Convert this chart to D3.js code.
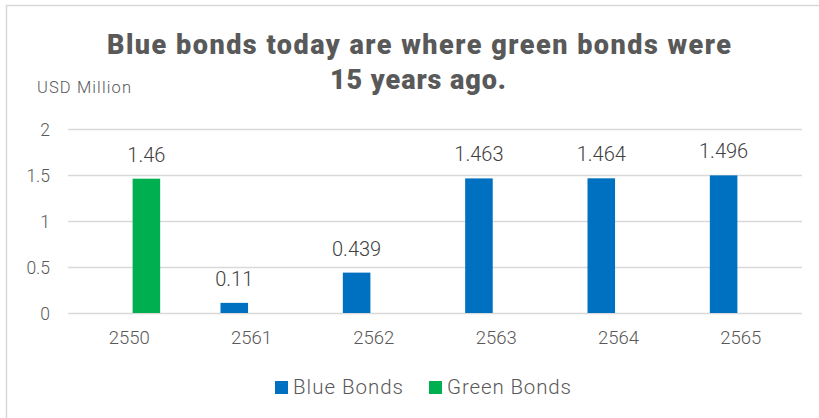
<!DOCTYPE html>
<html>
<head>
<meta charset="utf-8">
<script src="https://cdn.jsdelivr.net/npm/d3@7"></script>
<style>
  html, body { margin: 0; padding: 0; background: #fff; }
  svg { display: block; }
</style>
</head>
<body>
<svg id="chart" width="819" height="418"></svg>
<script>
const categories = ["2550", "2561", "2562", "2563", "2564", "2565"];
const seriesNames = ["Blue Bonds", "Green Bonds"];
const blueValues  = [null, 0.11, 0.439, 1.463, 1.464, 1.496];
const greenValues = [1.46, null, null, null, null, null];
const yTicks = [0, 0.5, 1, 1.5, 2];
const yTickLabels = ["0", "0.5", "1", "1.5", "2"];
const titleLines = ["Blue bonds today are where green bonds were", "15 years ago."];
const yAxisTitle = "USD Million";
const colors = { "Blue Bonds": "#0070C0", "Green Bonds": "#00B050" };

const svg = d3.select("#chart");
const font = "Roboto, 'Noto Sans', sans-serif";
const textColor = "#595959";

// border (top and left visible)
svg.append("rect").attr("x", 6.5).attr("y", 5.5).attr("width", 830).attr("height", 430)
  .attr("fill", "none").attr("stroke", "#d9d9d9").attr("stroke-width", 1.5);

const plot = { left: 68, right: 802, top: 129, bottom: 313 };

const y = d3.scaleLinear().domain([0, 2]).range([plot.bottom, plot.top]);
const x0 = d3.scaleBand().domain(categories).range([plot.left, plot.right]).padding(0);
const bw = x0.bandwidth();
const x1 = d3.scaleBand().domain(seriesNames).range([bw / 2 - 31, bw / 2 + 31]).paddingInner(0.2);

// gridlines
const yAxis = d3.axisLeft(y).tickValues(yTicks).tickFormat((d, i) => yTickLabels[i])
  .tickSize(-(plot.right - plot.left)).tickPadding(18);
const gy = svg.append("g").attr("transform", `translate(${plot.left},0)`).call(yAxis);
gy.select(".domain").remove();
gy.selectAll(".tick line").attr("stroke", "#d9d9d9").attr("stroke-width", 1.5);
gy.selectAll(".tick text").attr("fill", textColor).style("font-family", font)
  .style("font-size", "17.5px").style("font-weight", 300).attr("dy", "0.36em");

// x axis labels
const xAxis = d3.axisBottom(x0).tickSize(0).tickPadding(18);
const gx = svg.append("g").attr("transform", `translate(0,${plot.bottom})`).call(xAxis);
gx.select(".domain").remove();
gx.selectAll(".tick text").attr("fill", textColor).style("font-family", font)
  .style("font-size", "18.5px").style("font-weight", 300);

// data
const rows = categories.map((c, i) => ({
  cat: c,
  vals: [
    { s: "Blue Bonds", v: blueValues[i] },
    { s: "Green Bonds", v: greenValues[i] }
  ].filter(d => d.v != null)
}));

const groups = svg.append("g").selectAll("g").data(rows).join("g")
  .attr("transform", d => `translate(${x0(d.cat)},0)`);

groups.selectAll("rect").data(d => d.vals).join("rect")
  .attr("x", d => x1(d.s))
  .attr("width", x1.bandwidth())
  .attr("y", d => y(d.v))
  .attr("height", d => y(0) - y(d.v))
  .attr("fill", d => colors[d.s]);

groups.selectAll("text.val").data(d => d.vals).join("text")
  .attr("class", "val")
  .attr("x", d => x1(d.s) + x1.bandwidth() / 2)
  .attr("y", d => y(d.v) - 17)
  .attr("text-anchor", "middle")
  .attr("fill", "#404040")
  .style("font-family", font)
  .style("font-size", "20px")
  .style("font-weight", 300)
  .text(d => String(d.v));

// title
const titleSpecs = [
  { x: 107, y: 54, len: 624 },
  { x: 330, y: 89, len: 176 }
];
titleLines.forEach((t, i) => {
  svg.append("text").attr("x", titleSpecs[i].x).attr("y", titleSpecs[i].y)
    .attr("textLength", titleSpecs[i].len).attr("lengthAdjust", "spacing")
    .attr("fill", textColor).style("font-family", font).style("font-weight", 900)
    .style("font-size", "27px").text(t);
});

// y axis title
svg.append("text").attr("x", 37).attr("y", 93)
  .attr("textLength", 94).attr("lengthAdjust", "spacing")
  .attr("fill", textColor).style("font-family", font).style("font-size", "16.5px")
  .style("font-weight", 300)
  .text(yAxisTitle);

// legend
const legendX = [275, 429];
const legendLen = [110, 124];
const lg = svg.append("g").selectAll("g").data(seriesNames).join("g")
  .attr("transform", (d, i) => `translate(${legendX[i]},381)`);
lg.append("rect").attr("width", 13).attr("height", 13).attr("fill", d => colors[d]);
lg.append("text").attr("x", 18).attr("y", 12.5)
  .attr("textLength", (d, i) => legendLen[i]).attr("lengthAdjust", "spacing")
  .attr("fill", textColor).style("font-family", font).style("font-size", "20.5px")
  .style("font-weight", 300)
  .text(d => d);
</script>
</body>
</html>
